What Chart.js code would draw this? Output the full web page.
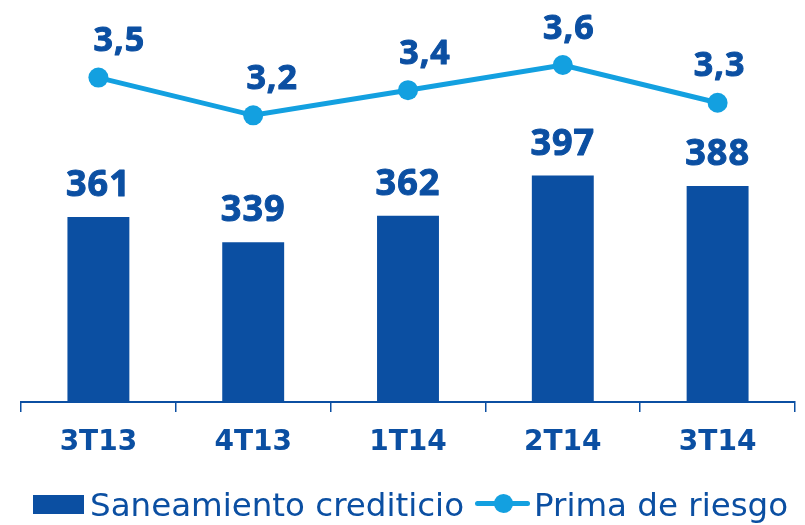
<!DOCTYPE html>
<html>
<head>
<meta charset="utf-8">
<script src="https://cdn.jsdelivr.net/npm/chart.js@4"></script>
<style>
  html, body { margin: 0; padding: 0; background: #fff; }
  #wrap { position: relative; width: 805px; height: 525px; }
  #legend { position: absolute; left: 0; top: 0; width: 805px; height: 525px; pointer-events: none;
            font-family: "DejaVu Sans", sans-serif; font-size: 32.5px; color: #0b4fa2; }
  #legend .txt { position: absolute; top: 489px; line-height: 33px; white-space: nowrap; }
</style>
</head>
<body>
<div id="wrap">
  <canvas id="chart" width="805" height="525"></canvas>
  <div id="legend">
    <div style="position:absolute;left:33px;top:495px;width:51px;height:19px;background:#0b4fa2"></div>
    <div class="txt" style="left:90px">Saneamiento crediticio</div>
    <div style="position:absolute;left:475px;top:501px;width:55px;height:5px;border-radius:3px;background:#13a0e0"></div>
    <div style="position:absolute;left:494px;top:494px;width:19px;height:19px;border-radius:50%;background:#13a0e0"></div>
    <div class="txt" style="left:534px">Prima de riesgo</div>
  </div>
</div>
<script>
// Saneamiento crediticio vs prima de riesgo
const quarters = ["3T13", "4T13", "1T14", "2T14", "3T14"];
const saneamiento = [361, 339, 362, 397, 388];
const prima = [3.5, 3.2, 3.4, 3.6, 3.3];

const darkBlue = "#0b4fa2";
const lightBlue = "#13a0e0";
// small horizontal nudges of the line labels, as placed in the original
const primaLabelDx = [21, 19, 17, 6, 2];

const fmt = (v) => String(v).replace(".", ",");

// heavy text: fill plus a thin stroke of the same colour
function heavyText(ctx, text, x, y) {
  ctx.strokeText(text, x, y);
  ctx.fillText(text, x, y);
}

const valueLabels = {
  id: "valueLabels",
  afterDatasetsDraw(chart) {
    const ctx = chart.ctx;
    ctx.save();
    ctx.fillStyle = darkBlue;
    ctx.strokeStyle = darkBlue;
    ctx.lineWidth = 1;
    ctx.lineJoin = "round";
    ctx.textAlign = "center";
    ctx.textBaseline = "middle";
    ctx.letterSpacing = "1px";

    ctx.font = "bold 36px 'Open Sans'";
    chart.getDatasetMeta(0).data.forEach((el, i) => {
      heavyText(ctx, String(saneamiento[i]), el.x, el.y - 31);
    });

    ctx.font = "bold 34px 'Open Sans'";
    chart.getDatasetMeta(1).data.forEach((el, i) => {
      heavyText(ctx, fmt(prima[i]), el.x + primaLabelDx[i], el.y - 36);
    });
    ctx.restore();
  },
};

new Chart(document.getElementById("chart"), {
  type: "bar",
  data: {
    labels: quarters,
    datasets: [
      {
        label: "Saneamiento crediticio",
        data: saneamiento,
        backgroundColor: darkBlue,
        barPercentage: 0.4,
        categoryPercentage: 1,
        yAxisID: "y",
        order: 1,
      },
      {
        type: "line",
        label: "Prima de riesgo",
        data: prima,
        borderColor: lightBlue,
        backgroundColor: lightBlue,
        borderWidth: 5,
        pointRadius: 10,
        pointBackgroundColor: lightBlue,
        pointBorderWidth: 0,
        tension: 0,
        yAxisID: "y1",
        order: 0,
      },
    ],
  },
  options: {
    responsive: false,
    animation: false,
    layout: { padding: { top: 10, left: 21, right: 10, bottom: 0 } },
    plugins: {
      legend: { display: false },
      tooltip: { enabled: false },
    },
    scales: {
      x: {
        grid: {
          offset: true,
          drawOnChartArea: false,
          drawTicks: true,
          tickLength: 10,
          color: darkBlue,
          lineWidth: 1.5,
        },
        border: { display: true, color: darkBlue, width: 2 },
        ticks: {
          color: darkBlue,
          padding: 14,
          font: { family: "'DejaVu Sans'", size: 28, weight: "bold" },
        },
        afterFit(scale) {
          scale.height = 123;
        },
      },
      y: { display: false, min: 200, max: 541 },
      y1: { display: false, min: 0.919, max: 4.038 },
    },
  },
  plugins: [valueLabels],
});
</script>
</body>
</html>
